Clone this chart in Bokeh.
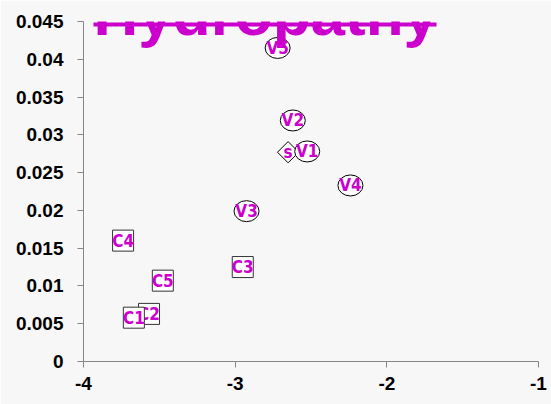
import math
from bokeh.plotting import figure
from bokeh.models import (ColumnDataSource, Range1d, FixedTicker, CustomJSTickFormatter,
                          Label, BoxAnnotation)
from bokeh.core.properties import value
from bokeh.embed import file_html
from bokeh.resources import INLINE

# ---- data ----
v_labels = ["V1", "V2", "V3", "V4", "V5"]
v_x = [-2.525, -2.62, -2.925, -2.24, -2.72]
v_y = [0.0278, 0.0319, 0.0199, 0.0233, 0.0415]

c_labels = ["C5", "C4", "C3", "C2", "C1"]
c_x = [-3.477, -3.739, -2.95, -3.568, -3.668]
c_y = [0.0107, 0.0160, 0.0125, 0.0063, 0.0058]

s_labels = ["s"]
s_x = [-2.651]
s_y = [0.0277]

x_ticks = [-4, -3, -2, -1]
y_ticks = [0, 0.005, 0.01, 0.015, 0.02, 0.025, 0.03, 0.035, 0.04, 0.045]

title_text = "Hydropathy"

MAGENTA = "#cc00cc"
BG = "#f7f7f7"
AXIS = "#868686"
MARK_FONT = value("DejaVu Sans Condensed")
MARK_SIZE = "17px"

p = figure(frame_width=455, frame_height=340,
           x_range=Range1d(-4, -1), y_range=Range1d(0, 0.045),
           output_backend="svg", toolbar_location=None)
p.min_border_left = 83
p.min_border_right = 13
p.min_border_top = 21
p.min_border_bottom = 43

p.background_fill_color = BG
p.border_fill_color = BG
p.outline_line_color = None
p.xgrid.visible = False
p.ygrid.visible = False

fmt = CustomJSTickFormatter(code="return tick.toFixed(3).replace(/0+$/,'').replace(/\\.$/,'');")
for ax, ticks in ((p.xaxis, x_ticks), (p.yaxis, y_ticks)):
    ax.ticker = FixedTicker(ticks=ticks)
    ax.formatter = fmt
    ax.axis_line_color = AXIS
    ax.major_tick_line_color = AXIS
    ax.major_tick_out = 6
    ax.major_tick_in = 0
    ax.minor_tick_line_color = None
    ax.major_label_text_font = "Liberation Sans"
    ax.major_label_text_font_style = "bold"
    ax.major_label_text_font_size = "19px"
    ax.major_label_text_color = "black"
p.yaxis.major_label_standoff = 14
p.xaxis.major_label_standoff = 9

# S diamond
s_src = ColumnDataSource(dict(x=s_x, y=s_y, t=s_labels))
p.scatter("x", "y", source=s_src, marker="square", angle=math.pi / 4, size=15,
          fill_color="white", line_color="black", line_width=1)
p.text("x", "y", text="t", source=s_src, text_align="center", text_baseline="middle",
       text_font=MARK_FONT, text_font_style="bold",
       text_font_size=MARK_SIZE, text_color=MAGENTA)

# V ellipses
v_src = ColumnDataSource(dict(x=v_x, y=v_y, t=v_labels))
p.ellipse("x", "y", width=25, height=21, width_units="screen", height_units="screen",
          source=v_src, fill_color="white", line_color="black", line_width=1)
p.text("x", "y", text="t", source=v_src, text_align="center", text_baseline="middle",
       text_font=MARK_FONT, text_font_style="bold",
       text_font_size=MARK_SIZE, text_color=MAGENTA)

# C squares (drawn one at a time so overlaps stack like the reference)
for lab, cx, cy in zip(c_labels, c_x, c_y):
    src = ColumnDataSource(dict(x=[cx], y=[cy], t=[lab]))
    p.scatter("x", "y", source=src, marker="square", size=21,
              fill_color="white", line_color="#333333", line_width=1)
    p.text("x", "y", text="t", source=src, text_align="center", text_baseline="middle",
           text_font=MARK_FONT, text_font_style="bold",
           text_font_size=MARK_SIZE, text_color=MAGENTA)

# Title (clipped at the top, underlined); screen units are frame-relative
p.add_layout(Label(x=10, y=348, x_units="screen", y_units="screen", text=title_text,
                   text_font="Liberation Sans", text_font_style="bold",
                   text_font_size="62px", text_color=MAGENTA,
                   text_baseline="alphabetic", text_align="left"))
p.add_layout(BoxAnnotation(left=10, right=353, bottom=335, top=339,
                           left_units="screen", right_units="screen",
                           bottom_units="screen", top_units="screen",
                           fill_color=MAGENTA, fill_alpha=1, line_color=None))

open("out.html", "w").write(file_html(p, INLINE))
